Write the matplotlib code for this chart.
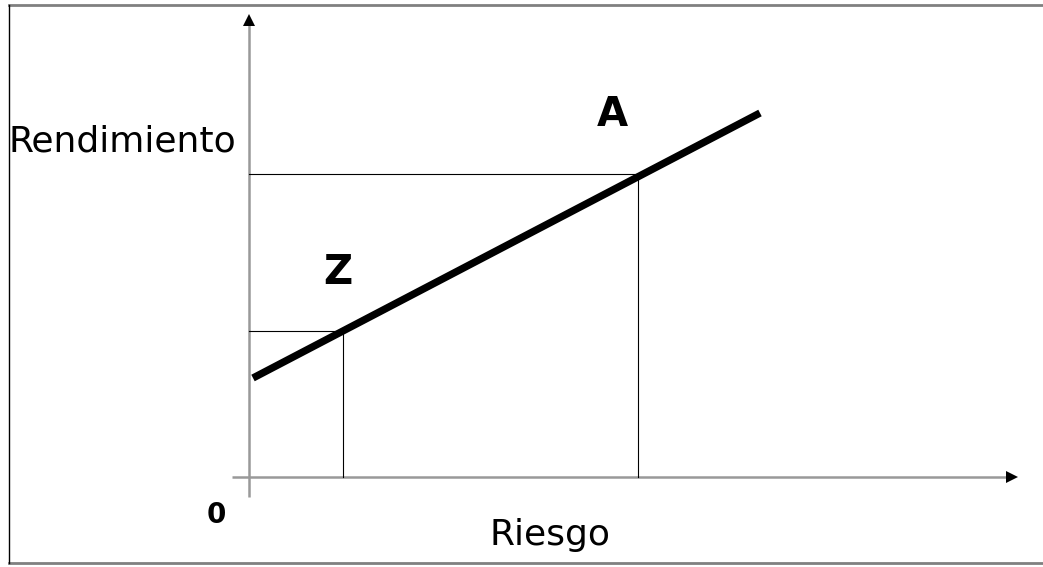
import matplotlib.pyplot as plt
from matplotlib.lines import Line2D

# rendimiento vs riesgo (unidades arbitrarias)
linea_x = [0.04, 5.11]
linea_y = [0.99, 3.64]
riesgo_z, rend_z = 0.94, 1.46
riesgo_a, rend_a = 3.89, 3.03
eje_x = [-0.17, 7.60]
eje_y = [-0.20, 4.53]

fig = plt.figure(figsize=(10.43, 5.67), dpi=100)
ax = fig.add_axes([0, 0, 1, 1])
ax.set_xlim(-2.49, 7.94)
ax.set_ylim(-0.90, 4.77)
ax.axis('off')

# ejes
ax.plot(eje_x, [0, 0], color='#999999', lw=1.8, solid_capstyle='butt')
ax.plot([0, 0], eje_y, color='#999999', lw=1.8, solid_capstyle='butt')
ax.plot([eje_x[1] + 0.03], [0], marker='>', color='black', ms=8, mew=0)
ax.plot([0], [eje_y[1] + 0.04], marker='^', color='black', ms=8, mew=0)

# guias
ax.plot([0, riesgo_z, riesgo_z], [rend_z, rend_z, 0], color='black', lw=0.8)
ax.plot([0, riesgo_a, riesgo_a], [rend_a, rend_a, 0], color='black', lw=0.8)

# recta
ax.plot(linea_x, linea_y, color='black', lw=5.3, solid_capstyle='butt')

ax.text(0.89, 2.04, 'Z', fontsize=29, fontweight='bold', ha='center', va='center')
ax.text(3.63, 3.62, 'A', fontsize=29, fontweight='bold', ha='center', va='center')
ax.text(-0.33, -0.38, '0', fontsize=20, fontweight='bold',
        ha='center', va='center')
ax.text(-1.27, 3.36, 'Rendimiento', fontsize=26, ha='center', va='center')
ax.text(3.01, -0.58, 'Riesgo', fontsize=26, ha='center', va='center')

# marco
fig.add_artist(Line2D([9 / 1043, 1], [1 - 5 / 567, 1 - 5 / 567], color='#808080', lw=2))
fig.add_artist(Line2D([9 / 1043, 1], [1 - 563 / 567, 1 - 563 / 567], color='#808080', lw=2))
fig.add_artist(Line2D([9 / 1043, 9 / 1043], [1 - 5 / 567, 1 - 563 / 567], color='black', lw=1))

fig.savefig('out.png', dpi=100, facecolor='white')
